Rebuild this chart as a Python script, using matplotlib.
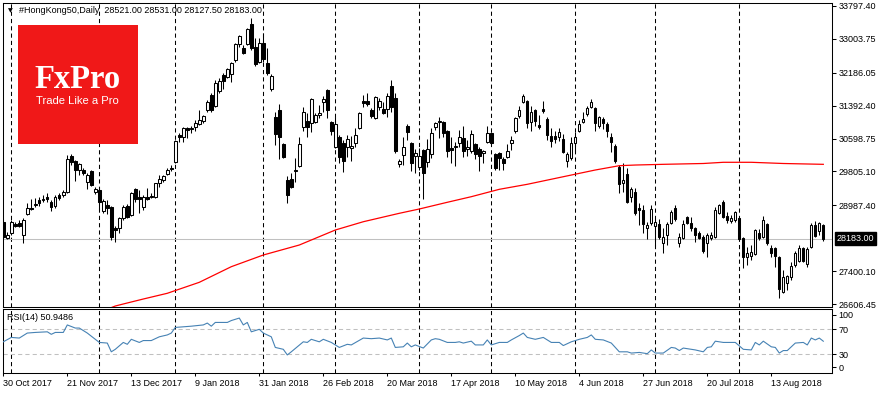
import matplotlib
matplotlib.use('Agg')
import matplotlib.pyplot as plt
import matplotlib.transforms as mtransforms
from matplotlib.patches import Rectangle
import numpy as np

plt.rcParams['font.family'] = ['Liberation Sans', 'DejaVu Sans']

# ---------------- data ----------------
opens = [28585, 28199, 28320, 28536, 28561, 28271, 28778, 28923, 28995, 29116,
         29116, 29188, 29068, 28971, 29236, 29236, 29309, 30178, 30057, 29840,
         29840, 29551, 29816, 29309, 29357, 28851, 28995, 28947, 28440, 28440,
         28682, 28971, 28754, 29382, 29188, 28947, 29188, 29188, 29188, 29527,
         29599, 29743, 29864, 30033, 30684, 30636, 30853, 30829, 30877, 30950,
         31022, 31288, 31649, 31384, 31746, 32132, 32084, 32156, 32494, 32880,
         32784, 32880, 33363, 32808, 32446, 32905, 32422, 31794, 31119, 31288,
         30467, 29599, 29623, 29816, 29936, 30877, 31022, 30974, 30998, 31167,
         31481, 31770, 30998, 30395, 30636, 30492, 30395, 30371, 30492, 30853,
         31505, 31505, 31288, 31095, 31360, 31312, 31312, 31866, 31577, 29984,
         30202, 30901, 30492, 30178, 29912, 30323, 30033, 30226, 30877, 30998,
         30998, 30781, 30371, 30395, 30492, 30612, 30347, 30299, 30467, 30347,
         30250, 30516, 30733, 30226, 30250, 30106, 30154, 30492, 30781, 31143,
         31481, 31505, 30998, 31288, 30925, 31312, 31071, 30660, 30660, 30636,
         30588, 30057, 30130, 30492, 30781, 30998, 31191, 31360, 31336, 30901,
         31071, 30950, 30636, 30419, 29912, 29527, 29743, 29188, 29309, 28923,
         28875, 28440, 28561, 28488, 28536, 28079, 28271, 28561, 28923, 28079,
         28199, 28706, 28561, 28440, 28320, 28223, 28079, 28199, 28223, 28803,
         29068, 28730, 28609, 28633, 28682, 28199, 27740, 27764, 27813, 28320,
         28223, 28536, 27958, 27958, 27740, 26896, 27113, 27258, 27547, 27644,
         27958, 27572, 27982, 28512, 28368, 28521.00]
highs = [28658, 28344, 28633, 28585, 28633, 28682, 29044, 29140, 29164, 29188,
         29236, 29285, 29116, 29236, 29285, 29357, 30202, 30226, 30081, 30009,
         29888, 29768, 29840, 29430, 29430, 29140, 29116, 28971, 28488, 28706,
         28995, 29019, 29309, 29406, 29357, 29236, 29406, 29285, 29527, 29719,
         29719, 29888, 29960, 30564, 30733, 30877, 30877, 30901, 31046, 31288,
         31167, 31529, 31698, 32012, 32060, 32181, 32301, 32446, 32905, 33097,
         32856, 33266, 33508, 33025, 33025, 33146, 32784, 32156, 31240, 31432,
         30492, 29695, 29768, 30130, 30636, 31360, 31215, 31577, 31215, 31408,
         31625, 31794, 31022, 31119, 30684, 30564, 30684, 30660, 30853, 31240,
         31649, 31698, 31336, 31625, 31577, 31481, 31698, 32012, 31698, 30106,
         30636, 30950, 30516, 30347, 30371, 30347, 30588, 30853, 30998, 31119,
         31022, 30805, 30636, 30516, 30805, 30901, 30564, 30805, 30492, 30395,
         30323, 30901, 30757, 30250, 30274, 30154, 30467, 30660, 31119, 31384,
         31673, 31529, 31384, 31312, 31167, 31505, 31119, 30853, 30781, 30853,
         30709, 30274, 30636, 30757, 31046, 31240, 31384, 31553, 31360, 31143,
         31119, 30998, 30733, 30467, 29960, 30009, 29888, 29430, 29406, 29044,
         28995, 28585, 28995, 28682, 28658, 28440, 28585, 28875, 28995, 28320,
         28633, 28730, 28706, 28464, 28368, 28271, 28320, 28344, 28947, 29019,
         29116, 28827, 28754, 28851, 28706, 28223, 27982, 28030, 28416, 28416,
         28730, 28561, 28030, 27982, 27764, 27427, 27306, 27620, 27885, 28030,
         27982, 27982, 28561, 28609, 28585, 28531.00]
lows = [28175, 28175, 28271, 28464, 28464, 28079, 28754, 28875, 28947, 28971,
        29068, 29068, 28851, 28923, 29116, 29188, 29285, 29960, 29575, 29719,
        29719, 29382, 29454, 29260, 28875, 28803, 28778, 28151, 28103, 28320,
        28633, 28682, 28730, 29068, 28803, 28875, 29116, 29164, 29164, 29430,
        29551, 29719, 29816, 30009, 30516, 30516, 30612, 30733, 30781, 30925,
        30974, 31240, 31240, 31360, 31698, 31794, 32060, 31964, 32446, 32808,
        32639, 32856, 32736, 32350, 32422, 32446, 32132, 31746, 30443, 30106,
        30130, 29044, 29406, 29551, 29912, 30781, 30636, 30757, 30974, 31095,
        31240, 31095, 30684, 30371, 30009, 29792, 30154, 30057, 30395, 30829,
        31360, 31384, 31095, 31071, 31288, 31191, 31119, 31240, 30250, 29912,
        29960, 30564, 29816, 29768, 29840, 29140, 29912, 30130, 30805, 30612,
        30636, 30154, 30009, 29936, 30395, 30154, 30178, 30250, 30106, 29816,
        30009, 30492, 30467, 29840, 29840, 29840, 30130, 30323, 30733, 31095,
        31457, 30853, 30781, 30901, 30829, 31215, 30564, 30395, 30492, 30540,
        30250, 29912, 30081, 30274, 30757, 30974, 31143, 31336, 30781, 30853,
        30829, 30636, 30274, 30009, 29285, 29309, 29044, 29068, 28754, 28512,
        28320, 28175, 28512, 28006, 28175, 27837, 28030, 28536, 28609, 27982,
        28175, 28536, 28368, 28103, 28175, 27837, 27740, 28151, 28199, 28778,
        28682, 28561, 28561, 28585, 28151, 27475, 27547, 27668, 27788, 28151,
        28199, 28030, 27740, 27499, 26751, 26872, 26944, 27186, 27499, 27620,
        27620, 27499, 27958, 28223, 28271, 28127.50]
closes = [28223, 28271, 28585, 28488, 28488, 28633, 28923, 28899, 29019, 29044,
          29140, 29140, 28947, 29188, 29164, 29309, 30106, 30033, 29840, 29984,
          29768, 29719, 29478, 29382, 29068, 29092, 28923, 28223, 28392, 28682,
          28947, 28706, 29285, 29140, 29140, 29188, 29140, 29212, 29527, 29623,
          29695, 29840, 29888, 30540, 30636, 30853, 30805, 30853, 30974, 31046,
          31143, 31481, 31288, 31940, 31988, 31988, 32277, 32422, 32880, 33073,
          32664, 33242, 32784, 32398, 32905, 32519, 32181, 32108, 30709, 30636,
          30154, 29236, 29430, 29840, 30467, 31240, 30877, 31553, 31167, 31215,
          31553, 31288, 30781, 30950, 30154, 30057, 30588, 30419, 30684, 31215,
          31457, 31432, 31143, 31601, 31505, 31215, 31625, 31360, 30299, 30057,
          30395, 30757, 30009, 30250, 30178, 29768, 30347, 30733, 30974, 31022,
          30733, 30299, 30323, 30419, 30636, 30299, 30395, 30709, 30226, 30178,
          30299, 30733, 30492, 29888, 30130, 30009, 30299, 30564, 31095, 31288,
          31625, 30974, 31240, 31022, 30877, 31264, 30684, 30540, 30588, 30757,
          30274, 30226, 30492, 30636, 30950, 31071, 31336, 31481, 30974, 31119,
          30974, 30781, 30516, 30057, 29502, 29599, 29068, 29382, 28803, 28875,
          28536, 28512, 28899, 28585, 28223, 28223, 28536, 28827, 28658, 28223,
          28536, 28561, 28440, 28271, 28199, 27885, 28271, 28271, 28875, 28995,
          28706, 28633, 28682, 28827, 28175, 27740, 27837, 27861, 28392, 28199,
          28633, 28079, 27837, 27764, 26968, 27258, 27282, 27523, 27837, 27958,
          27644, 27934, 28512, 28247, 28561, 28183.00]

# moving average (red line), read at selected bars
ma_idx = [27, 28, 30, 35, 41, 49, 57, 65, 74, 83, 90, 99, 104, 111, 117, 124,
          131, 140, 148, 154, 158, 165, 175, 180, 187, 195, 205]
ma_val = [26520, 26558, 26607, 26727, 26865, 27130, 27507, 27789, 28030, 28392,
          28592, 28795, 28899, 29061, 29196, 29374, 29495, 29678, 29840, 29944,
          29960, 29977, 29997, 30026, 30026, 29997, 29977]

# RSI(14), read at selected bars
rsi_idx = [0, 2, 4, 6, 8, 11, 12, 13, 15, 16, 18, 19, 21, 24, 26, 27, 28, 30, 31, 32,
           34, 35, 37, 39, 41, 42, 43, 45, 47, 50, 51, 52, 53, 56, 57, 59, 60, 61, 62, 64,
           65, 67, 68, 70, 71, 72, 75, 76, 77, 79, 80, 82, 84, 86, 87, 90, 92, 94, 96, 97,
           98, 100, 101, 102, 103, 105, 107, 108, 109, 111, 113, 114, 115, 117, 118, 120,
           121, 122, 124, 126, 127, 129, 130, 131, 133, 135, 137, 139, 140, 142, 144, 146,
           147, 148, 150, 152, 154, 156, 157, 159, 161, 162, 163, 165, 167, 168, 169, 170,
           173, 175, 176, 177, 178, 180, 183, 185, 187, 188, 189, 190, 192, 193, 194, 195,
           196, 198, 200, 201, 202, 203, 204, 205]
rsi_val = [50, 57, 56, 64, 65, 66, 62, 65, 65, 77, 72, 72, 64, 49, 48, 34, 38, 49, 46, 54,
           49, 52, 52, 58, 61, 64, 73, 74, 75, 77, 80, 75, 81, 81, 84, 88, 77, 81, 66, 70,
           64, 58, 41, 38, 29, 34, 50, 49, 54, 50, 54, 49, 41, 46, 45, 56, 55, 56, 53, 56,
           41, 42, 48, 42, 45, 40, 53, 55, 54, 49, 49, 50, 48, 51, 45, 45, 53, 45, 49, 49,
           53, 60, 64, 57, 54, 57, 49, 49, 44, 50, 54, 57, 61, 54, 53, 48, 34, 34, 32, 33,
           31, 37, 32, 32, 41, 40, 36, 40, 37, 34, 41, 42, 51, 49, 49, 38, 37, 49, 45, 51,
           42, 41, 32, 36, 36, 48, 49, 45, 56, 53, 56, 50.9486]

date_labels = ['30 Oct 2017', '21 Nov 2017', '13 Dec 2017', '9 Jan 2018', '31 Jan 2018',
               '26 Feb 2018', '20 Mar 2018', '17 Apr 2018', '10 May 2018', '4 Jun 2018',
               '27 Jun 2018', '20 Jul 2018', '13 Aug 2018']
date_label_bars = [0, 16, 32, 48, 64, 80, 96, 112, 128, 144, 160, 176, 192]
month_start_bars = [2, 24, 43, 65, 83, 104, 122, 143, 163, 184]
price_ticks = [33797.40, 33003.75, 32186.05, 31392.40, 30598.75, 29805.10,
               28987.40, 27400.10, 26606.45]
last_price = 28183.00
rsi_levels = [70, 30]
rsi_tick_pos = [92.9, 70, 30, 9.2]
rsi_tick_lbl = ['100', '70', '30', '0']

# ---------------- figure ----------------
W, H = 880, 395
fig = plt.figure(figsize=(W / 100, H / 100), dpi=100)
fig.patch.set_facecolor('white')

def fx(px):
    return px / W

def fy(py):
    return 1 - py / H

ax = fig.add_axes([fx(2.5), fy(306.7), fx(831.5) - fx(2.5), fy(2.7) - fy(306.7)])
ax2 = fig.add_axes([fx(2.5), fy(373.3), fx(831.5) - fx(2.5), fy(308.5) - fy(373.3)])

FS = 6.5
dash = (0, (4, 3))

o = np.array(opens, float)
h = np.array(highs, float)
l = np.array(lows, float)
c = np.array(closes, float)
xb = np.arange(len(c))
up = c >= o

for a in (ax, ax2):
    for b in month_start_bars:
        a.axvline(b, color='black', lw=0.75, ls=dash, zorder=1)
    a.set_xlim(-0.2, 207.05)
    for s in a.spines.values():
        s.set_color('black')
        s.set_linewidth(0.75)
    a.set_facecolor('white')

ax.axhline(last_price, color='#C0C0C0', lw=0.75, zorder=1)
ax.vlines(xb, l, h, color='black', lw=0.75, zorder=2)
ax.bar(xb, np.abs(c - o), bottom=np.minimum(o, c), width=0.6,
       color=np.where(up, 'white', 'black'), edgecolor='black', linewidth=0.75, zorder=3)
ax.plot(ma_idx, ma_val, color='#FF0000', lw=0.9, zorder=4)

ax.set_ylim(26541.5, 33877)
ax.yaxis.tick_right()
ax.set_yticks(price_ticks)
ax.set_yticklabels([f'{v:.2f}' for v in price_ticks])
ax.tick_params(axis='y', direction='out', length=3, width=0.75, pad=2, labelsize=FS)
ax.tick_params(axis='x', bottom=False, labelbottom=False)

trans = mtransforms.blended_transform_factory(ax.transAxes, ax.transData)
ax.text(1 + 5.5 / 829, last_price, f'{last_price:.2f}', transform=trans, ha='left',
        va='center', color='white', fontsize=FS, clip_on=False, zorder=10,
        bbox=dict(boxstyle='square,pad=0.22', fc='black', ec='black'))

# RSI panel
for lv in rsi_levels:
    ax2.axhline(lv, color='#C0C0C0', lw=0.75, ls=dash, zorder=1)
ax2.plot(rsi_idx, rsi_val, color='#4682B4', lw=0.8, zorder=3)
ax2.set_ylim(-0.4, 103.3)
ax2.yaxis.tick_right()
ax2.set_yticks(rsi_tick_pos)
ax2.set_yticklabels(rsi_tick_lbl)
ax2.tick_params(axis='y', direction='out', length=3, width=0.75, pad=2, labelsize=FS)
ax2.set_xticks(date_label_bars)
ax2.set_xticklabels(date_labels, ha='left')
ax2.tick_params(axis='x', direction='out', length=2, width=0.75, pad=2, labelsize=FS)

# header texts
fig.text(fx(19), fy(10.5), '#HongKong50,Daily  28521.00 28531.00 28127.50 28183.00',
         fontsize=FS, ha='left', va='center')
fig.text(fx(10), fy(10.5), '\u25BC', fontsize=4.5, ha='center', va='center',
         family='DejaVu Sans')
fig.text(fx(7), fy(317), 'RSI(14) 50.9486', fontsize=FS, ha='left', va='center', zorder=5)

# logo
fig.patches.append(Rectangle((fx(17.7), fy(144.3)), fx(137.7) - fx(17.7),
                             fy(25) - fy(144.3), transform=fig.transFigure,
                             fc='#F01818', ec='none', zorder=5))
fig.text(fx(78), fy(88), 'FxPro', family='Liberation Serif', fontsize=23.5,
         fontweight='bold', color='white', ha='center', va='baseline', zorder=6)
fig.text(fx(77.5), fy(104), 'Trade Like a Pro', fontsize=8.1, color='white',
         ha='center', va='baseline', zorder=6)

fig.savefig('out.png', dpi=100, facecolor='white')
